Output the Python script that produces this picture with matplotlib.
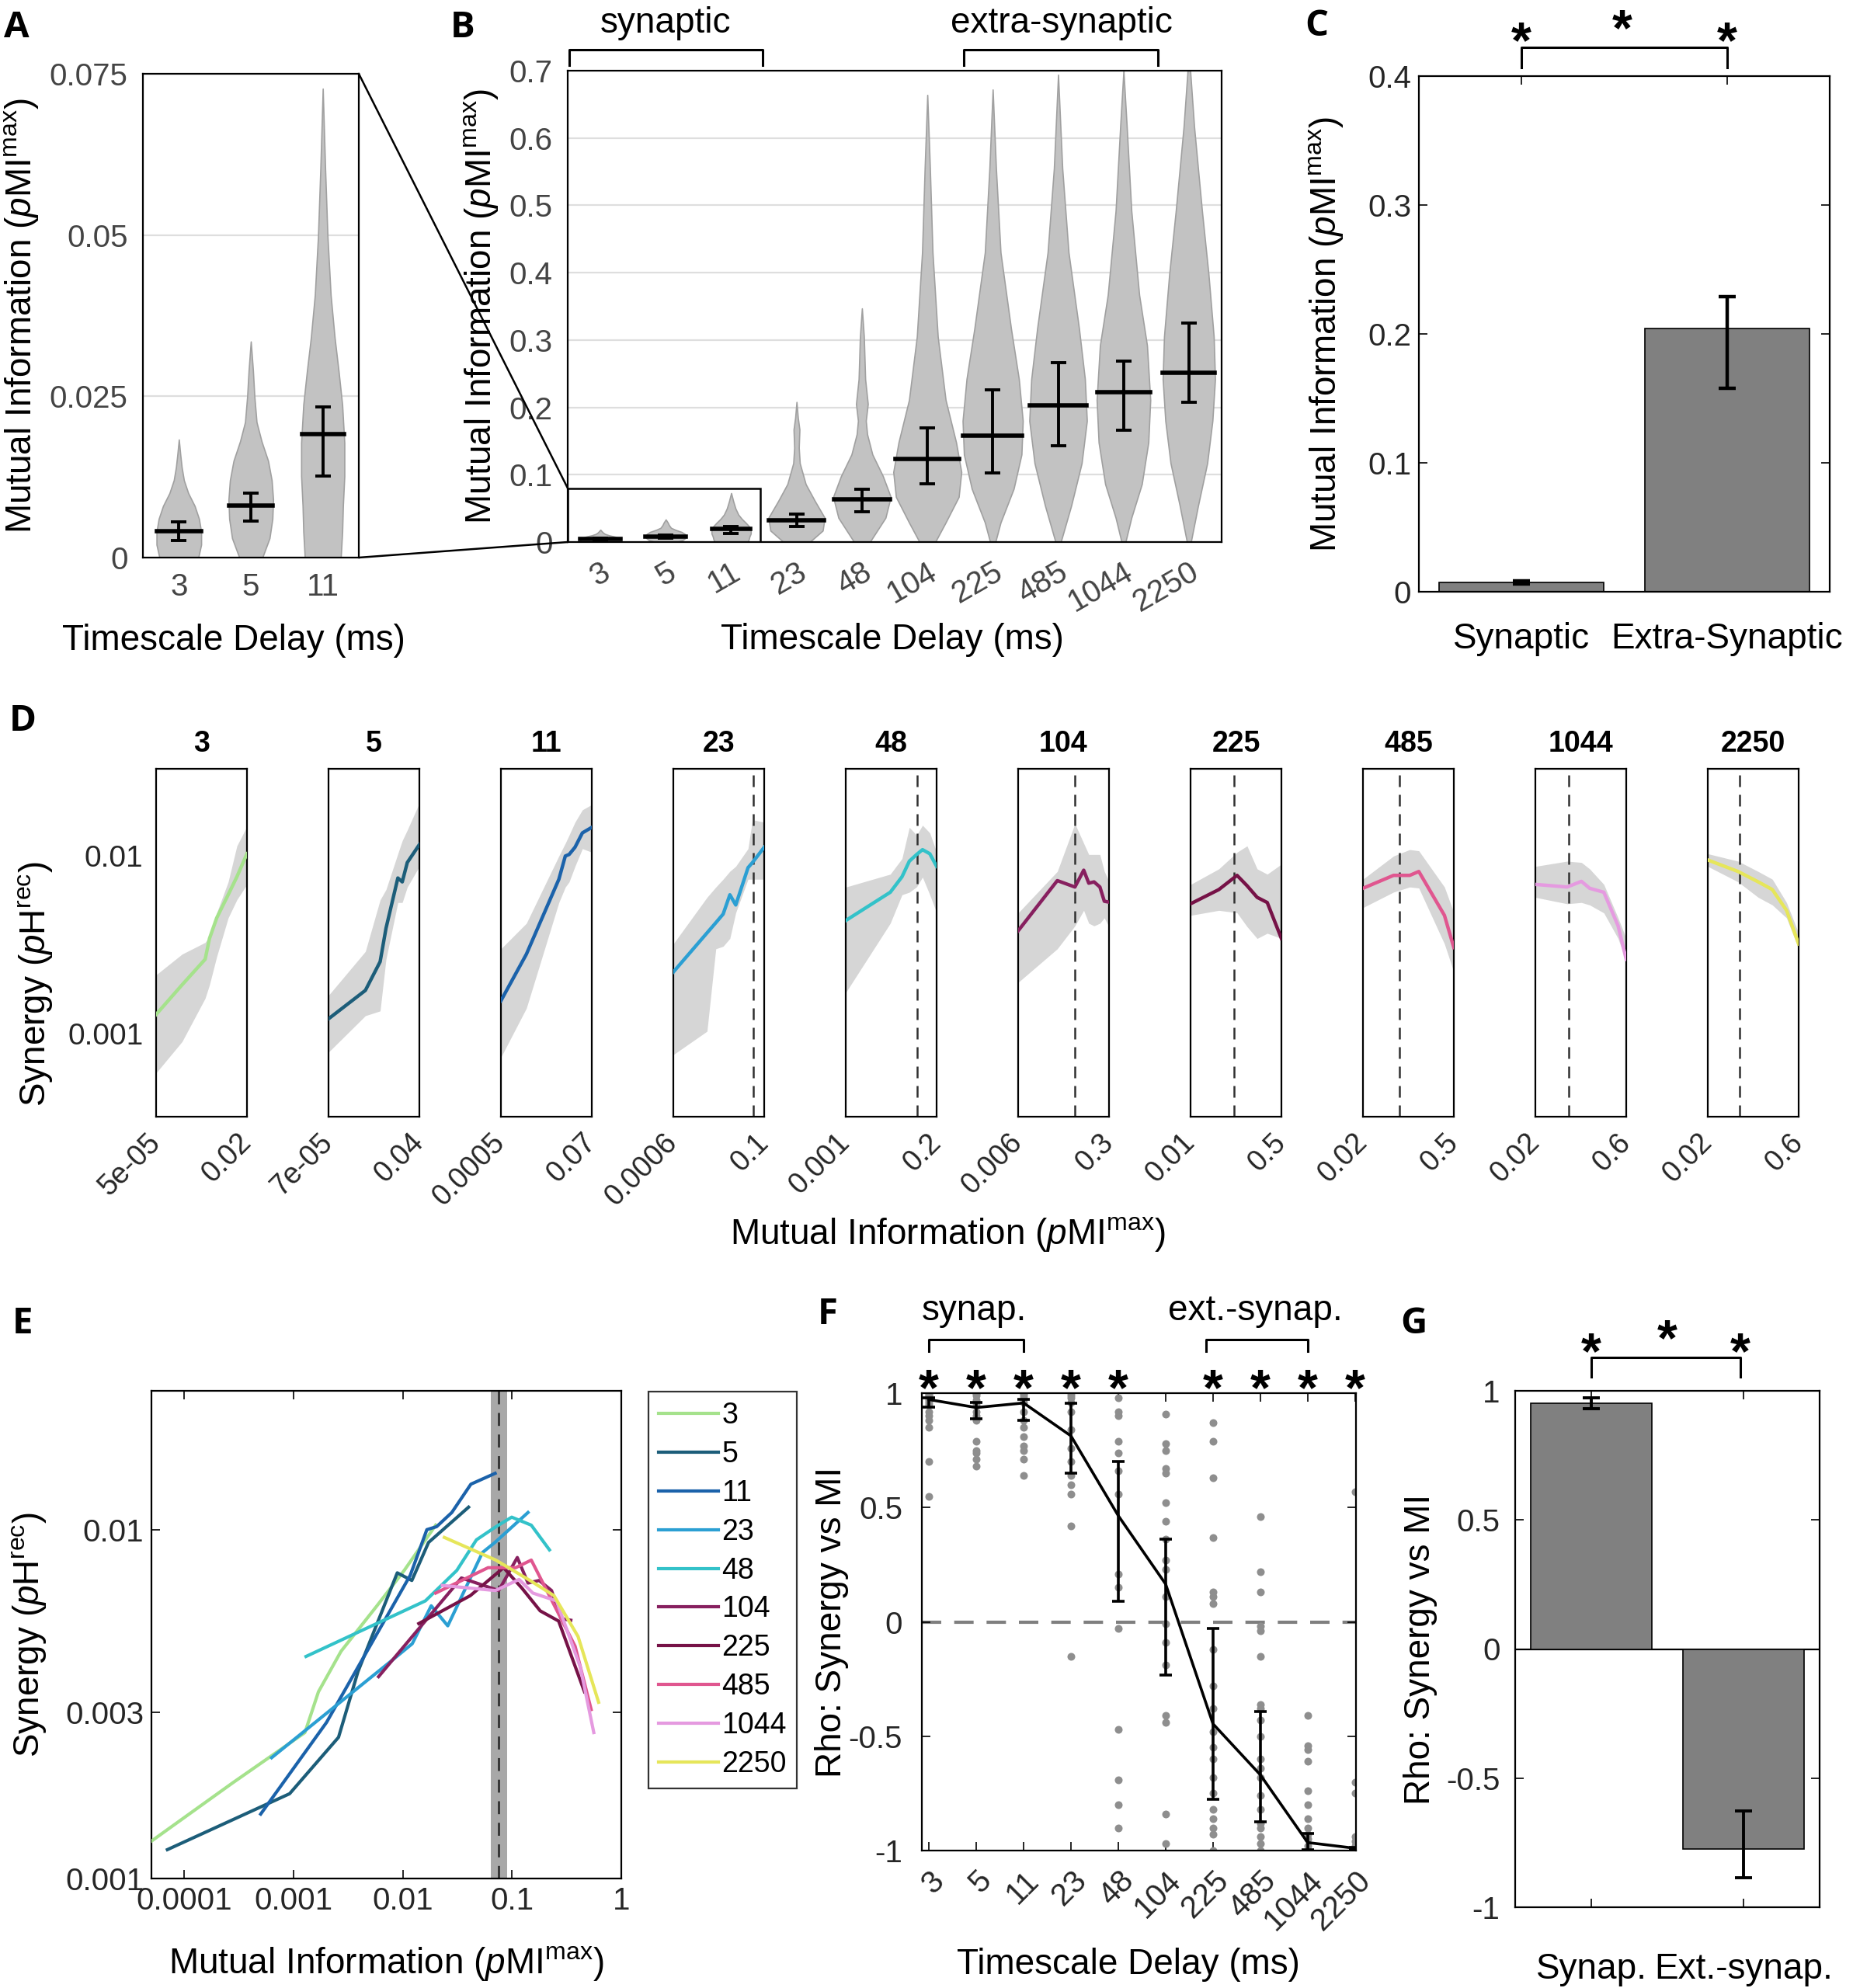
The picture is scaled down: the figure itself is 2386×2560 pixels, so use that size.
import numpy as np
import matplotlib
matplotlib.use("Agg")
import matplotlib.pyplot as plt
from matplotlib.patches import Rectangle, ConnectionPatch
from matplotlib.transforms import blended_transform_factory
from matplotlib.ticker import NullLocator

plt.rcParams['font.family'] = ['Liberation Sans', 'DejaVu Sans']
plt.rcParams['mathtext.fontset'] = 'custom'
plt.rcParams['mathtext.rm'] = 'Liberation Sans'
plt.rcParams['mathtext.it'] = 'Liberation Sans:italic'
plt.rcParams['axes.linewidth'] = 0.8

W, H = 2386, 2560

# ---------------- data ----------------
delays = [3, 5, 11, 23, 48, 104, 225, 485, 1044, 2250]
line_colors = ['#a5e28c', '#1c5d79', '#1b62aa', '#2b9fd3', '#33c2c9',
               '#87205f', '#761247', '#e0568f', '#e59ae0', '#e6e65a']

# A/B violins: MI levels and half widths (x units)
violin_levels = [
    [0, 0.002, 0.004, 0.006, 0.008, 0.010, 0.012, 0.014, 0.016, 0.0183],
    [0, 0.003, 0.006, 0.009, 0.012, 0.015, 0.018, 0.021, 0.025, 0.029, 0.0335],
    [0, 0.004, 0.008, 0.0126, 0.0178, 0.0237, 0.0289, 0.0341, 0.0407, 0.0498, 0.0603, 0.0727],
    [0, 0.017, 0.036, 0.061, 0.086, 0.117, 0.14, 0.167, 0.185, 0.208],
    [0, 0.036, 0.067, 0.098, 0.13, 0.16, 0.18, 0.205, 0.242, 0.305, 0.347],
    [0, 0.029, 0.067, 0.104, 0.148, 0.211, 0.305, 0.43, 0.555, 0.664],
    [0, 0.029, 0.079, 0.13, 0.18, 0.242, 0.317, 0.43, 0.555, 0.672],
    [0, 0.054, 0.117, 0.18, 0.242, 0.317, 0.43, 0.555, 0.694],
    [0, 0.036, 0.086, 0.148, 0.211, 0.292, 0.367, 0.492, 0.617, 0.70],
    [0, 0.054, 0.117, 0.18, 0.242, 0.305, 0.398, 0.492, 0.617, 0.70],
]
violin_half = [
    [0.27, 0.31, 0.31, 0.28, 0.22, 0.13, 0.07, 0.04, 0.02, 0.0],
    [0.16, 0.26, 0.30, 0.31, 0.29, 0.24, 0.15, 0.08, 0.05, 0.03, 0.0],
    [0.25, 0.27, 0.28, 0.30, 0.30, 0.27, 0.22, 0.165, 0.11, 0.066, 0.033, 0.0],
    [0.2, 0.40, 0.43, 0.28, 0.14, 0.05, 0.035, 0.045, 0.02, 0.0],
    [0.12, 0.36, 0.44, 0.32, 0.16, 0.08, 0.06, 0.09, 0.05, 0.03, 0.0],
    [0.12, 0.28, 0.48, 0.52, 0.44, 0.28, 0.16, 0.08, 0.04, 0.0],
    [0.04, 0.12, 0.32, 0.44, 0.46, 0.40, 0.28, 0.12, 0.05, 0.0],
    [0.04, 0.2, 0.36, 0.44, 0.41, 0.32, 0.16, 0.064, 0.0],
    [0.03, 0.12, 0.28, 0.38, 0.41, 0.36, 0.24, 0.12, 0.05, 0.0],
    [0.03, 0.14, 0.28, 0.36, 0.40, 0.38, 0.30, 0.2, 0.08, 0.02],
]
mi_median = [0.0041, 0.0081, 0.0192, 0.0325, 0.0638, 0.123, 0.158, 0.203, 0.223, 0.251]
mi_ci_lo = [0.0026, 0.0057, 0.0127, 0.023, 0.045, 0.087, 0.103, 0.143, 0.166, 0.208]
mi_ci_hi = [0.0055, 0.0100, 0.0233, 0.042, 0.078, 0.17, 0.226, 0.266, 0.269, 0.325]

# C
group_names = ['Synaptic', 'Extra-Synaptic']
group_mi = [0.0072, 0.204]
group_mi_lo = [0.0062, 0.158]
group_mi_hi = [0.0085, 0.229]

# D/E: synergy vs MI curves with band
curve_mi = [
    [5e-5, 2.77e-4, 1.27e-3, 1.69e-3, 2.72e-3, 5.8e-3, 1.03e-2, 2.0e-2],
    [7e-5, 9.2e-4, 2.58e-3, 3.89e-3, 8.9e-3, 1.21e-2, 1.72e-2, 4.0e-2],
    [5e-4, 2.0e-3, 1.17e-2, 1.66e-2, 2.04e-2, 2.81e-2, 4.2e-2, 7.0e-2],
    [6.3e-4, 4.68e-3, 7.89e-3, 1.22e-2, 1.82e-2, 2.58e-2, 5.36e-2, 6.97e-2, 0.14],
    [0.0013, 0.0161, 0.0312, 0.0472, 0.0713, 0.0993, 0.15, 0.22],
    [0.006, 0.0344, 0.0755, 0.1117, 0.14, 0.177, 0.23, 0.28, 0.345],
    [0.014, 0.0415, 0.0836, 0.123, 0.181, 0.267, 0.46],
    [0.02, 0.0603, 0.108, 0.15, 0.378, 0.53],
    [0.023, 0.0703, 0.116, 0.155, 0.255, 0.421, 0.56],
    [0.024, 0.071, 0.146, 0.242, 0.402, 0.62],
]
curve_syn = [
    [0.00128, 0.00188, 0.00262, 0.00343, 0.00448, 0.00605, 0.00764, 0.0103],
    [0.00121, 0.00175, 0.00254, 0.00392, 0.00752, 0.00715, 0.00919, 0.0116],
    [0.00153, 0.0028, 0.0074, 0.0100, 0.0102, 0.0112, 0.0135, 0.0145],
    [0.00222, 0.00369, 0.00421, 0.00471, 0.00605, 0.0053, 0.0086, 0.00919, 0.0112],
    [0.00433, 0.00625, 0.00764, 0.00935, 0.0102, 0.01086, 0.0103, 0.00875],
    [0.00379, 0.00727, 0.00669, 0.00832, 0.00703, 0.00715, 0.00669, 0.00556, 0.0055],
    [0.00538, 0.00647, 0.00778, 0.0068, 0.00585, 0.00547, 0.00343],
    [0.00658, 0.00778, 0.00778, 0.00818, 0.00463, 0.00305],
    [0.00692, 0.00669, 0.0072, 0.00658, 0.00625, 0.00404, 0.00262],
    [0.0095, 0.00818, 0.00715, 0.00647, 0.00494, 0.0032],
]
curve_lo = [
    [0.0006, 0.0009, 0.00158, 0.00188, 0.00271, 0.00448, 0.00567, 0.00692],
    [0.000785, 0.00126, 0.00134, 0.00262, 0.00547, 0.00547, 0.00668, 0.00875],
    [0.000735, 0.00139, 0.00547, 0.00668, 0.00714, 0.00874, 0.011, 0.0105],
    [0.00076, 0.00103, 0.003, 0.0031, 0.00343, 0.00479, 0.0074, 0.0074, 0.0074],
    [0.0017, 0.00418, 0.00605, 0.00625, 0.0067, 0.0076, 0.00605, 0.0048],
    [0.00194, 0.003, 0.00404, 0.00494, 0.00418, 0.00404, 0.00418, 0.00448, 0.004],
    [0.00463, 0.00494, 0.00479, 0.0040, 0.00343, 0.00367, 0.00343],
    [0.00512, 0.00626, 0.00669, 0.0066, 0.0032, 0.00222],
    [0.00585, 0.00538, 0.00547, 0.0053, 0.00478, 0.00343, 0.00254],
    [0.00874, 0.00715, 0.00585, 0.0053, 0.00448, 0.003],
]
curve_hi = [
    [0.00214, 0.0028, 0.00326, 0.00354, 0.00478, 0.00715, 0.0114, 0.0147],
    [0.00164, 0.0029, 0.00566, 0.00647, 0.0103, 0.0122, 0.014, 0.0199],
    [0.003, 0.00418, 0.010, 0.0118, 0.0131, 0.0155, 0.0182, 0.0195],
    [0.0032, 0.00585, 0.00668, 0.0074, 0.0082, 0.00875, 0.011, 0.016, 0.0155],
    [0.00668, 0.0079, 0.00967, 0.0145, 0.0131, 0.0149, 0.0135, 0.0105],
    [0.00478, 0.00818, 0.0152, 0.0118, 0.0102, 0.0102, 0.0102, 0.0082, 0.0072],
    [0.00691, 0.00846, 0.0105, 0.0114, 0.00846, 0.0079, 0.009],
    [0.0074, 0.01, 0.01087, 0.0107, 0.00669, 0.0048],
    [0.00874, 0.00935, 0.0092, 0.00846, 0.00692, 0.00448, 0.00343],
    [0.0103, 0.00935, 0.00818, 0.0074, 0.00547, 0.00367],
]
mi_thresh = 0.075
mi_thresh_band = (0.064, 0.090)

# F: per-recording rho values and summary
rho_points = [
    [1.0, 1.0, 0.99, 0.99, 0.98, 0.97, 0.96, 0.95, 0.92, 0.9, 0.88, 0.85, 0.7, 0.55],
    [1.0, 1.0, 0.99, 0.97, 0.95, 0.92, 0.9, 0.88, 0.79, 0.75, 0.74, 0.71, 0.68],
    [1.0, 1.0, 0.99, 0.98, 0.96, 0.92, 0.88, 0.85, 0.81, 0.77, 0.75, 0.71, 0.64],
    [1.0, 0.99, 0.98, 0.96, 0.92, 0.84, 0.76, 0.7, 0.64, 0.6, 0.56, 0.42, -0.15],
    [0.98, 0.92, 0.9, 0.79, 0.74, 0.66, 0.56, 0.21, 0.15, -0.03, -0.47, -0.69, -0.8, -0.9],
    [0.91, 0.78, 0.75, 0.67, 0.65, 0.52, 0.44, 0.36, 0.27, 0.23, 0.11, -0.01, -0.09,
     -0.19, -0.41, -0.44, -0.84, -0.97],
    [0.87, 0.79, 0.63, 0.37, 0.13, 0.11, 0.08, -0.12, -0.28, -0.38, -0.48, -0.55, -0.6,
     -0.68, -0.75, -0.82, -0.86, -0.9, -0.93, -1.0],
    [0.46, 0.22, 0.13, -0.02, -0.04, -0.15, -0.36, -0.38, -0.43, -0.5, -0.6, -0.64, -0.68,
     -0.76, -0.82, -0.88, -0.9, -0.94, -0.97, -1.0],
    [-0.41, -0.54, -0.56, -0.61, -0.74, -0.8, -0.86, -0.9, -0.93, -0.95, -0.98, -1.0],
    [0.57, -0.7, -0.75, -0.94, -0.96, -0.98, -1.0, -1.0],
]
rho_mean = [0.972, 0.937, 0.957, 0.813, 0.464, 0.165, -0.446, -0.669, -0.965, -0.99]
rho_lo = [0.94, 0.888, 0.882, 0.651, 0.09, -0.231, -0.777, -0.876, -0.997, -0.995]
rho_hi = [0.98, 0.96, 0.972, 0.957, 0.70, 0.362, -0.028, -0.393, -0.925, -0.985]
rho_sig = [True, True, True, True, True, False, True, True, True, True]

# G
group_short = ['Synap.', 'Ext.-synap.']
group_rho = [0.953, -0.773]
group_rho_lo = [0.93, -0.885]
group_rho_hi = [0.974, -0.628]

MI_LABEL = r'Mutual Information ($\mathit{p}$MI$^{\mathrm{max}}$)'
SYN_LABEL = r'Synergy ($\mathit{p}$H$^{\mathrm{rec}}$)'
TICK = 14.5
LAB = 16.5


def px_box(l, t, r, b):
    return [l / W, 1 - b / H, (r - l) / W, (b - t) / H]


def violin(ax, x, i):
    lev = np.array(violin_levels[i])
    hw = np.array(violin_half[i])
    ax.fill_betweenx(lev, x - hw, x + hw, color='#c2c2c2', ec='#a0a0a0', lw=0.6, zorder=2)
    w = np.interp(mi_median[i], lev, hw)
    ax.plot([x - w, x + w], [mi_median[i]] * 2, color='k', lw=2.0, zorder=3)
    ax.errorbar(x, mi_median[i],
                yerr=[[mi_median[i] - mi_ci_lo[i]], [mi_ci_hi[i] - mi_median[i]]],
                color='k', lw=1.4, capsize=3.5, capthick=1.4, zorder=4)


def bracket(ax, x0, x1, ytop, ytip):
    tr = blended_transform_factory(ax.transData, ax.transAxes)
    ax.plot([x0, x0, x1, x1], [ytip, ytop, ytop, ytip], color='k', lw=1.1,
            transform=tr, clip_on=False)


def star(ax, x, y, size=24):
    tr = blended_transform_factory(ax.transData, ax.transAxes)
    ax.annotate('*', xy=(x, y), xycoords=tr, xytext=(0, -0.56 * size),
                textcoords='offset points', ha='center', va='baseline',
                fontsize=size, fontweight='bold', annotation_clip=False)


def matlab_style(ax):
    ax.tick_params(direction='in', top=True, right=True, length=4, width=0.6,
                   labelsize=TICK, labelcolor='#262626')


fig = plt.figure(figsize=(W / 200, H / 200), dpi=200)

# ---------------- A ----------------
axA = fig.add_axes(px_box(184, 95, 462, 718))
for i in range(3):
    violin(axA, i + 1, i)
axA.set_xlim(0.5, 3.5)
axA.set_ylim(0, 0.075)
axA.set_yticks([0, 0.025, 0.05, 0.075])
axA.set_yticklabels(['0', '0.025', '0.05', '0.075'])
axA.set_xticks([1, 2, 3])
axA.set_xticklabels([str(d) for d in delays[:3]])
axA.yaxis.grid(True, color='#dedede', lw=0.8)
axA.set_axisbelow(True)
axA.tick_params(length=0, labelsize=TICK, labelcolor='#444444', pad=7)
axA.set_ylabel(MI_LABEL, fontsize=LAB)
axA.yaxis.set_label_coords(-0.475, 0.5)
axA.set_xlabel('Timescale Delay (ms)', fontsize=LAB)
axA.xaxis.set_label_coords(0.42, -0.137)

# ---------------- B ----------------
axB = fig.add_axes(px_box(731, 91, 1573, 698))
for i in range(10):
    violin(axB, i + 1, i)
axB.set_xlim(0.5, 10.5)
axB.set_ylim(0, 0.7)
axB.set_yticks(np.arange(0, 0.71, 0.1))
axB.set_yticklabels(['0', '0.1', '0.2', '0.3', '0.4', '0.5', '0.6', '0.7'])
axB.set_xticks(range(1, 11))
axB.set_xticklabels([str(d) for d in delays], rotation=30, ha='right',
                    rotation_mode='anchor', va='top')
axB.yaxis.grid(True, color='#dedede', lw=0.8)
axB.set_axisbelow(True)
axB.tick_params(length=0, labelsize=TICK, labelcolor='#444444', pad=7)
axB.set_ylabel(MI_LABEL, fontsize=LAB)
axB.yaxis.set_label_coords(-0.103, 0.5)
axB.set_xlabel('Timescale Delay (ms)', fontsize=LAB)
axB.xaxis.set_label_coords(0.496, -0.172)
axB.add_patch(Rectangle((0.5, 0), 2.95, 0.08, fill=False, ec='k', lw=0.9, zorder=5))
for ya, yb in [(1, 0.08), (0, 0)]:
    con = ConnectionPatch(xyA=(1, ya), coordsA=axA.transAxes, xyB=(0.5, yb),
                          coordsB=axB.transData, color='k', lw=0.9)
    fig.add_artist(con)
bracket(axB, 0.52, 3.48, 1.045, 1.012)
bracket(axB, 6.56, 9.53, 1.045, 1.012)
trB = blended_transform_factory(axB.transData, axB.transAxes)
axB.text(2.0, 1.1, 'synaptic', transform=trB, ha='center', va='center', fontsize=LAB)
axB.text(8.05, 1.1, 'extra-synaptic', transform=trB, ha='center', va='center', fontsize=LAB)

# ---------------- C ----------------
axC = fig.add_axes(px_box(1827, 98, 2356, 762))
axC.bar([1, 2], group_mi, width=0.8, color='#808080', edgecolor='k', lw=0.6, zorder=2)
axC.errorbar([1, 2], group_mi,
             yerr=[np.subtract(group_mi, group_mi_lo), np.subtract(group_mi_hi, group_mi)],
             fmt='none', ecolor='k', lw=1.6, capsize=4, capthick=1.6, zorder=3)
axC.set_xlim(0.5, 2.5)
axC.set_ylim(0, 0.4)
axC.set_yticks([0, 0.1, 0.2, 0.3, 0.4])
axC.set_yticklabels(['0', '0.1', '0.2', '0.3', '0.4'])
axC.set_xticks([1, 2])
axC.set_xticklabels(group_names, fontsize=LAB)
matlab_style(axC)
axC.tick_params(axis='x', labelsize=LAB, pad=14, labelcolor='k')
axC.set_ylabel(MI_LABEL, fontsize=LAB)
axC.yaxis.set_label_coords(-0.18, 0.5)
bracket(axC, 1, 2, 1.056, 1.016)
star(axC, 1, 1.092)
star(axC, 2, 1.092)
star(axC, 1.49, 1.116)

# ---------------- D ----------------
d_lefts = [201, 423, 645, 867, 1089, 1311, 1533, 1755, 1977, 2199]
for i, d in enumerate(delays):
    ax = fig.add_axes(px_box(d_lefts[i], 990, d_lefts[i] + 117, 1438))
    mi = curve_mi[i]
    ax.fill_between(mi, curve_lo[i], curve_hi[i], color='#d6d6d6', lw=0, zorder=1)
    ax.plot(mi, curve_syn[i], color=line_colors[i], lw=1.6, zorder=3)
    if mi[0] < mi_thresh < mi[-1]:
        ax.axvline(mi_thresh, color='#303030', lw=0.9, ls=(0, (6, 4)), zorder=2)
    ax.set_xscale('log')
    ax.set_yscale('log')
    ax.set_xlim(mi[0], mi[-1])
    ax.set_ylim(3.4e-4, 3.1e-2)
    ax.set_xticks([mi[0], mi[-1]])
    ax.set_xticklabels(['%.1g' % mi[0], '%.1g' % mi[-1]], rotation=45, ha='right',
                       va='center', rotation_mode='anchor')
    ax.xaxis.set_minor_locator(NullLocator())
    ax.yaxis.set_minor_locator(NullLocator())
    if i == 0:
        ax.set_yticks([0.001, 0.01])
        ax.set_yticklabels(['0.001', '0.01'])
    else:
        ax.set_yticks([])
    ax.tick_params(length=0, labelsize=13.5, labelcolor='#262626', pad=10)
    ax.tick_params(axis='y', pad=6, labelsize=14)
    ax.set_title(str(d), fontsize=13.5, fontweight='bold', pad=8)
fig.text(1221 / W, 1 - 1589 / H, MI_LABEL, ha='center', va='center', fontsize=LAB)
fig.text(46 / W, 1 - 1267 / H, SYN_LABEL, ha='center', va='center', rotation=90, fontsize=LAB)

# ---------------- E ----------------
axE = fig.add_axes(px_box(195, 1791, 800, 2419))
axE.axvspan(*mi_thresh_band, color='#a8a8a8', lw=0, zorder=1)
axE.axvline(mi_thresh, color='#303030', lw=1.0, ls=(0, (6, 4)), zorder=2)
for i, d in enumerate(delays):
    axE.plot(curve_mi[i], curve_syn[i], color=line_colors[i], lw=1.5, label=str(d), zorder=3)
axE.set_xscale('log')
axE.set_yscale('log')
axE.set_xlim(5e-5, 1)
axE.set_ylim(0.001, 0.025)
axE.set_xticks([1e-4, 1e-3, 1e-2, 0.1, 1])
axE.set_xticklabels(['0.0001', '0.001', '0.01', '0.1', '1'])
axE.set_yticks([0.001, 0.003, 0.01])
axE.set_yticklabels(['0.001', '0.003', '0.01'])
axE.xaxis.set_minor_locator(NullLocator())
axE.yaxis.set_minor_locator(NullLocator())
matlab_style(axE)
axE.set_ylabel(SYN_LABEL, fontsize=LAB)
axE.yaxis.set_label_coords(-0.22, 0.5)
axE.set_xlabel(MI_LABEL, fontsize=LAB)
axE.xaxis.set_label_coords(0.5, -0.135)
leg = axE.legend(loc='upper left', bbox_to_anchor=(835 / W, 1 - 1792 / H),
                 bbox_transform=fig.transFigure, borderaxespad=0, frameon=True,
                 fancybox=False, edgecolor='k', fontsize=13.5, handlelength=2.05,
                 handletextpad=0.12, labelspacing=0.37, borderpad=0.35)
leg.get_frame().set_linewidth(0.8)

# ---------------- F ----------------
axF = fig.add_axes(px_box(1187, 1794, 1746, 2383))
for i, pts in enumerate(rho_points):
    axF.scatter([i + 1] * len(pts), pts, s=13, color='#8e8e8e', lw=0, zorder=2)
pos = np.arange(1, 11)
axF.axhline(0, color='#7f7f7f', lw=1.5, ls=(0, (6, 4)), zorder=1)
axF.plot(pos, rho_mean, color='k', lw=1.3, zorder=3)
axF.errorbar(pos, rho_mean, yerr=[np.subtract(rho_mean, rho_lo), np.subtract(rho_hi, rho_mean)],
             fmt='none', ecolor='k', lw=1.3, capsize=3, capthick=1.3, zorder=4)
axF.set_xlim(0.85, 10.02)
axF.set_ylim(-1, 1)
axF.set_yticks([-1, -0.5, 0, 0.5, 1])
axF.set_yticklabels(['-1', '-0.5', '0', '0.5', '1'])
axF.set_xticks(pos)
axF.set_xticklabels([str(d) for d in delays], rotation=45, ha='right', va='top',
                    rotation_mode='anchor')
matlab_style(axF)
axF.tick_params(axis='y', pad=9)
axF.tick_params(axis='x', pad=7)
axF.set_ylabel('Rho: Synergy vs MI', fontsize=LAB)
axF.yaxis.set_label_coords(-0.169, 0.5)
axF.set_xlabel('Timescale Delay (ms)', fontsize=LAB)
axF.xaxis.set_label_coords(0.475, -0.212)
for i, sig in enumerate(rho_sig):
    if sig:
        star(axF, i + 1, 1.037)
bracket(axF, 1, 3, 1.117, 1.092)
bracket(axF, 6.85, 9.0, 1.117, 1.092)
trF = blended_transform_factory(axF.transData, axF.transAxes)
axF.text(1.96, 1.18, 'synap.', transform=trF, ha='center', va='center', fontsize=LAB)
axF.text(7.9, 1.18, 'ext.-synap.', transform=trF, ha='center', va='center', fontsize=LAB)

# ---------------- G ----------------
axG = fig.add_axes(px_box(1951, 1791, 2343, 2456))
axG.bar([1, 2], group_rho, width=0.8, color='#808080', edgecolor='k', lw=0.6, zorder=2)
axG.errorbar([1, 2], group_rho,
             yerr=[np.subtract(group_rho, group_rho_lo), np.subtract(group_rho_hi, group_rho)],
             fmt='none', ecolor='k', lw=1.4, capsize=4, capthick=1.4, zorder=3)
axG.axhline(0, color='k', lw=0.8, zorder=1)
axG.set_xlim(0.5, 2.5)
axG.set_ylim(-1, 1)
axG.set_yticks([-1, -0.5, 0, 0.5, 1])
axG.set_yticklabels(['-1', '-0.5', '0', '0.5', '1'])
axG.set_xticks([1, 2])
axG.set_xticklabels(group_short)
matlab_style(axG)
axG.tick_params(axis='y', pad=7)
axG.tick_params(axis='x', labelsize=LAB, pad=21, labelcolor='k')
axG.set_ylabel('Rho: Synergy vs MI', fontsize=LAB)
axG.yaxis.set_label_coords(-0.255, 0.5)
bracket(axG, 1, 1.98, 1.064, 1.027)
star(axG, 1, 1.099)
star(axG, 1.98, 1.099)
star(axG, 1.5, 1.125)

# panel letters
for letter, x, y in [('A', 5, 12), ('B', 580, 12), ('C', 1680, 10), ('D', 12, 905),
                     ('E', 16, 1681), ('F', 1053, 1669), ('G', 1803, 1681)]:
    fig.text(x / W, 1 - y / H, letter, ha='left', va='top', fontsize=17,
             fontweight='bold', family=['Open Sans', 'DejaVu Sans'])

fig.savefig('out.png', dpi=200)
